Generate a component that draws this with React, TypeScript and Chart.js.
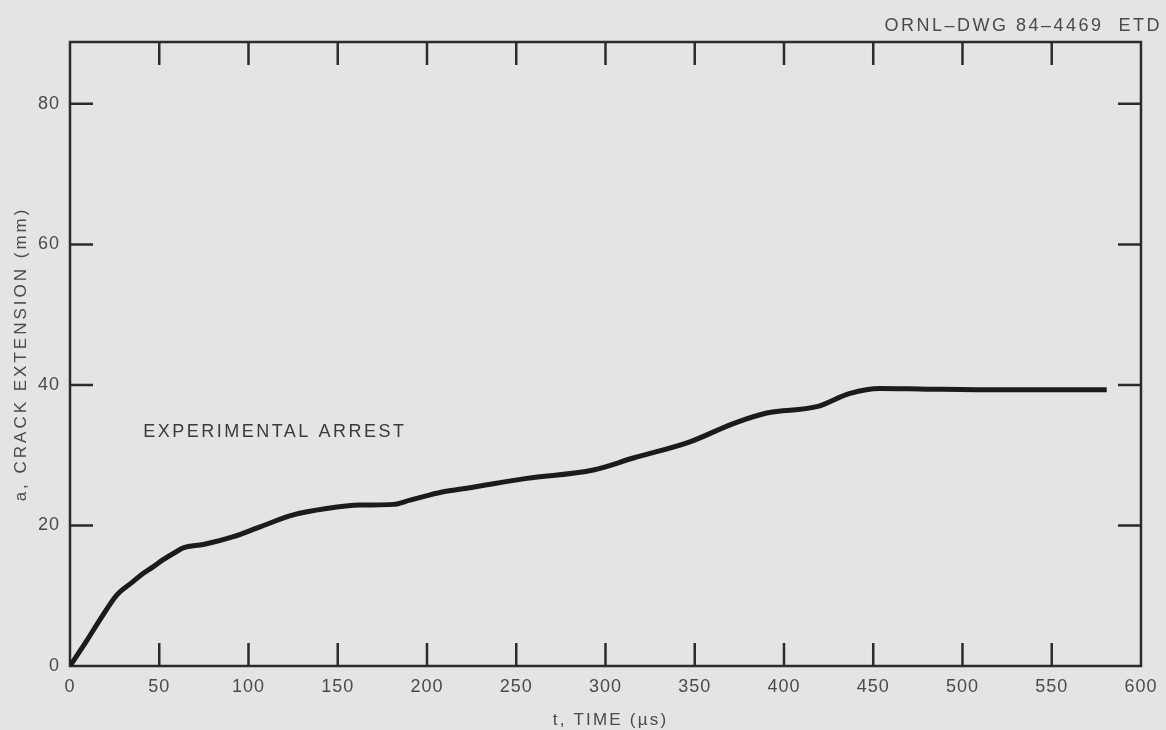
import React, { useEffect, useRef } from "react";
import { Chart, registerables } from "chart.js";

Chart.register(...registerables);

// Crack extension record, a (mm) against time t (µs)
const timeUs = [
  0, 9.4, 16.8, 26.2, 35.3, 41.1, 46.5, 52, 59.8, 63.5, 74.7, 91.5, 106.4,
  125.1, 143.8, 162.5, 181.1, 190.5, 209.1, 222.2, 255.9, 293.2, 315.6, 347.3,
  371.6, 390.3, 418.3, 437, 453.8, 480, 521, 550, 580.8,
];
const crackMm = [
  0, 3.6, 6.6, 10.1, 12.0, 13.2, 14.1, 15.1, 16.3, 16.8, 17.3, 18.4, 19.8,
  21.5, 22.4, 22.9, 23.0, 23.6, 24.8, 25.3, 26.7, 27.9, 29.6, 31.9, 34.5, 36.0,
  36.9, 38.8, 39.5, 39.4, 39.3, 39.3, 39.3,
];

const xTicks = [0, 50, 100, 150, 200, 250, 300, 350, 400, 450, 500, 550, 600];
const yTicks = [0, 20, 40, 60, 80];

const xTitle = "t, TIME (\u00b5s)";
const yTitle = "a, CRACK EXTENSION (mm)";
const drawingNumber = "ORNL\u2013DWG 84\u20134469  ETD";
const arrestLabel = "EXPERIMENTAL ARREST";
const arrestLabelAt = { t: 41, a: 33.3 };

const FONT = "'Liberation Sans', Arial, Helvetica, sans-serif";
const BG = "#e4e4e2";
const INK = "#2b2b2b";
const TEXT = "#4a4a4a";

const framePlugin = {
  id: "frameAndTicks",
  beforeDraw(chart: any) {
    const ctx = chart.ctx;
    ctx.save();
    ctx.fillStyle = BG;
    ctx.fillRect(0, 0, chart.width, chart.height);
    ctx.restore();
    // spacing used by the axis tick labels
    ctx.letterSpacing = "1px";
  },
  beforeDatasetsDraw(chart: any) {
    const { ctx, chartArea } = chart;
    const { left, right, top, bottom } = chartArea;
    const xs = chart.scales.x;
    const ys = chart.scales.y;
    const len = 23;
    ctx.save();
    ctx.strokeStyle = INK;
    ctx.lineWidth = 2.5;
    ctx.lineCap = "butt";
    ctx.strokeRect(left, top, right - left, bottom - top);
    ctx.beginPath();
    xTicks.forEach((v) => {
      if (v === 0 || v === 600) return;
      const px = xs.getPixelForValue(v);
      ctx.moveTo(px, bottom);
      ctx.lineTo(px, bottom - len);
      ctx.moveTo(px, top);
      ctx.lineTo(px, top + len);
    });
    yTicks.forEach((v) => {
      if (v === 0) return;
      const py = ys.getPixelForValue(v);
      ctx.moveTo(left, py);
      ctx.lineTo(left + len, py);
      ctx.moveTo(right, py);
      ctx.lineTo(right - len, py);
    });
    ctx.stroke();
    ctx.restore();
  },
  afterDraw(chart: any) {
    const { ctx, chartArea } = chart;
    const xs = chart.scales.x;
    const ys = chart.scales.y;
    ctx.save();
    ctx.fillStyle = TEXT;
    ctx.textBaseline = "middle";

    // drawing number, top right
    ctx.font = `18px ${FONT}`;
    ctx.letterSpacing = "2.5px";
    ctx.textAlign = "right";
    ctx.fillText(drawingNumber, 1162, 26);

    // annotation inside the plot
    ctx.fillStyle = "#3a3a3a";
    ctx.textAlign = "left";
    ctx.fillText(
      arrestLabel,
      xs.getPixelForValue(arrestLabelAt.t),
      ys.getPixelForValue(arrestLabelAt.a)
    );

    // axis titles
    ctx.fillStyle = TEXT;
    ctx.font = `17px ${FONT}`;
    ctx.textAlign = "center";
    ctx.letterSpacing = "2.2px";
    ctx.fillText(xTitle, (chartArea.left + chartArea.right) / 2 + 5, 720);

    ctx.save();
    ctx.translate(21, (chartArea.top + chartArea.bottom) / 2);
    ctx.rotate(-Math.PI / 2);
    ctx.letterSpacing = "3px";
    ctx.fillText(yTitle, 0, 0);
    ctx.restore();

    ctx.restore();
  },
};

export default function App() {
  const canvasRef = useRef<HTMLCanvasElement | null>(null);

  useEffect(() => {
    document.body.style.margin = "0";
    document.body.style.background = BG;
    const canvas = canvasRef.current;
    if (!canvas) return;
    const chart = new Chart(canvas, {
      type: "line",
      data: {
        datasets: [
          {
            data: timeUs.map((t, i) => ({ x: t, y: crackMm[i] })),
            borderColor: "#1b1b1b",
            borderWidth: 5,
            pointRadius: 0,
            cubicInterpolationMode: "monotone",
            fill: false,
          },
        ],
      },
      options: {
        responsive: false,
        animation: false,
        layout: { padding: { top: 42, right: 25, left: 0, bottom: 0 } },
        plugins: {
          legend: { display: false },
          tooltip: { enabled: false },
        },
        scales: {
          x: {
            type: "linear",
            min: 0,
            max: 600,
            grid: { display: false, drawTicks: false },
            border: { display: false },
            afterBuildTicks: (scale: any) => {
              scale.ticks = xTicks.map((v) => ({ value: v }));
            },
            afterFit: (scale: any) => {
              scale.height = 64;
            },
            ticks: {
              color: TEXT,
              font: { family: FONT, size: 18 },
              padding: 10,
              maxRotation: 0,
              autoSkip: false,
            },
          },
          y: {
            type: "linear",
            min: 0,
            max: 88.8,
            grid: { display: false, drawTicks: false },
            border: { display: false },
            afterBuildTicks: (scale: any) => {
              scale.ticks = yTicks.map((v) => ({ value: v }));
            },
            afterFit: (scale: any) => {
              scale.width = 70;
            },
            ticks: {
              color: TEXT,
              font: { family: FONT, size: 18 },
              padding: 10,
              autoSkip: false,
            },
          },
        },
      },
      plugins: [framePlugin],
    });
    return () => chart.destroy();
  }, []);

  return (
    <div style={{ width: 1166, height: 730, background: BG }}>
      <canvas ref={canvasRef} width={1166} height={730} style={{ display: "block" }} />
    </div>
  );
}
